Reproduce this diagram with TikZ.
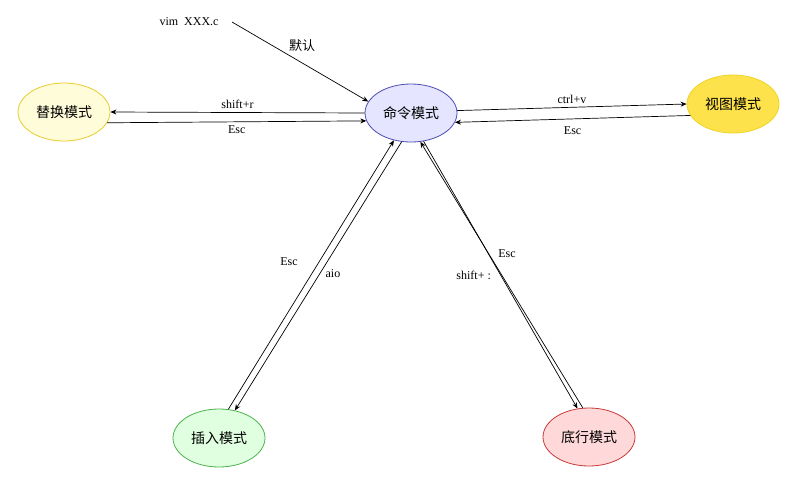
\documentclass[tikz,border=0pt]{standalone}
\usepackage{fontspec}
\setmainfont{Liberation Serif}
\newfontfamily\cjk{Noto Sans CJK SC}
\usetikzlibrary{shapes.geometric,arrows.meta}
\begin{document}
\begin{tikzpicture}[x=1pt,y=-1pt,
  mode/.style={ellipse,draw,line width=0.8pt,minimum width=92pt,minimum height=58pt,font=\cjk\fontsize{14}{16}\selectfont,inner sep=0pt},
  arr/.style={-{Stealth[length=6pt,width=5pt]},line width=0.7pt,draw=black},
  lab/.style={font=\fontsize{12}{14}\selectfont}]
\useasboundingbox (0,0) rectangle (800,480);
\node[mode,draw=blue!40!gray,fill=blue!10] (cmd) at (411,113) {命令模式};
\node[mode,draw=yellow!60!brown,fill=yellow!15] (rep) at (64,112) {替换模式};
\node[mode,draw=yellow!70!brown,fill=yellow!75!orange!70] (vis) at (733,104) {视图模式};
\node[mode,draw=green!40!gray,fill=green!12] (ins) at (219,438) {插入模式};
\node[mode,draw=red!55!gray,fill=red!15] (bot) at (589,437) {底行模式};
\node[lab] (vim) at (189,22) {vim\ \ XXX.c};
\coordinate (vs) at (232,22);
\node[font=\cjk\fontsize{13}{15}\selectfont] at (302,46) {默认};
\draw[arr] (vs) -- (cmd.165);
\draw[arr] (cmd.180) -- node[lab,above,pos=0.5] {shift+r} (rep.0);
\draw[arr] (rep.-14) -- node[lab,below,pos=0.5] {Esc} (cmd.-170);
\draw[arr] (cmd.3) -- node[lab,above] {ctrl+v} (vis.180);
\draw[arr] (vis.195) -- node[lab,below=4pt] {Esc} (cmd.-12);
\draw[arr] (ins.72) -- node[lab,left=18pt,pos=0.55] {Esc} (cmd.-122);
\draw[arr] (cmd.-108) -- node[lab,right=2pt,pos=0.49] {aio} (ins.60);
\draw[arr] (cmd.-66) -- node[lab,left=6pt,pos=0.5] {shift+ :} (bot.112);
\draw[arr] (bot.102) -- node[lab,right=6pt,pos=0.58] {Esc} (cmd.-72);
\end{tikzpicture}
\end{document}
